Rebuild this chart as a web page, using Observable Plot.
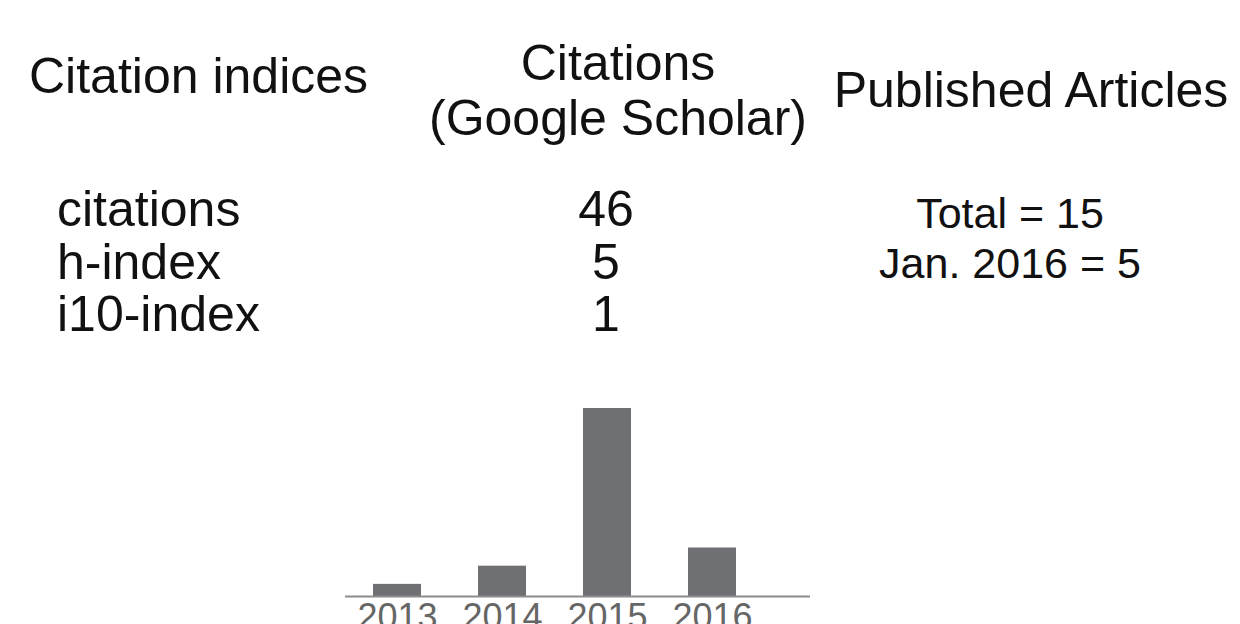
<!DOCTYPE html>
<html>
<head>
<meta charset="utf-8">
<script src="https://cdn.jsdelivr.net/npm/d3@7"></script>
<script src="https://cdn.jsdelivr.net/npm/@observablehq/plot@0.6"></script>
<style>
  html, body { margin: 0; padding: 0; background: #fff; overflow: hidden; }
  #page { position: relative; width: 1240px; height: 624px; overflow: hidden;
          font-family: "Liberation Sans", Arial, Helvetica, sans-serif; color: #111; }
  .t { position: absolute; font-size: 50px; line-height: 50px; white-space: pre; }
  .s { font-size: 43px; line-height: 43px; }
  #chart { position: absolute; left: 0; top: 380px; }
</style>
</head>
<body>
<div id="page"></div>
<script>
// ---- data ----
const headers = ["Citation indices", "Citations", "(Google Scholar)", "Published Articles"];
const indexNames = ["citations", "h-index", "i10-index"];
const indexValues = [46, 5, 1];
const articleLabels = ["Total", "Jan. 2016"];
const articleCounts = [15, 5];
const years = ["2013", "2014", "2015", "2016"];
const citationsPerYear = [2, 5, 31, 8];

const page = document.getElementById("page");
function addText(str, left, top, align, extraClass) {
  const d = document.createElement("div");
  d.className = "t" + (extraClass ? " " + extraClass : "");
  d.textContent = str;
  if (align === "center") {
    d.style.left = (left - 300) + "px";
    d.style.width = "600px";
    d.style.textAlign = "center";
  } else {
    d.style.left = left + "px";
  }
  d.style.top = top + "px";
  page.appendChild(d);
  return d;
}

// headers
addText(headers[0], 29, 51);
addText(headers[1], 618, 38, "center");
addText(headers[2], 618, 93, "center");
addText(headers[3], 1031, 65, "center");

// citation indices rows
indexNames.forEach((name, i) => {
  addText(name, 57, 184 + i * 52.5);
  addText(String(indexValues[i]), 606, 184 + i * 52.5, "center");
});

// published articles
articleLabels.forEach((lab, i) => {
  addText(`${lab} = ${articleCounts[i]}`, 1010, 192 + i * 50, "center", "s");
});

// ---- bar chart ----
const table = years.map((y, i) => ({year: y, value: citationsPerYear[i]}));
const chart = Plot.plot({
  width: 1240,
  height: 270,
  marginLeft: 345,
  marginRight: 430,
  marginTop: 28,
  marginBottom: 54,
  style: {fontFamily: "'Liberation Sans', Arial, sans-serif", background: "transparent"},
  x: {domain: years, paddingInner: 0.546, paddingOuter: 0.47, align: 0.27, label: null},
  y: {domain: [0, 31], axis: null},
  marks: [
    Plot.barY(table, {x: "year", y: "value", fill: "#6e7074"}),
    Plot.ruleY([0], {stroke: "#8c8c8c", strokeWidth: 2}),
    Plot.axisX({tickSize: 0, tickPadding: 7, fontSize: 36, fill: "#666", label: null})
  ]
});
chart.id = "chart";
page.appendChild(chart);
</script>
</body>
</html>
